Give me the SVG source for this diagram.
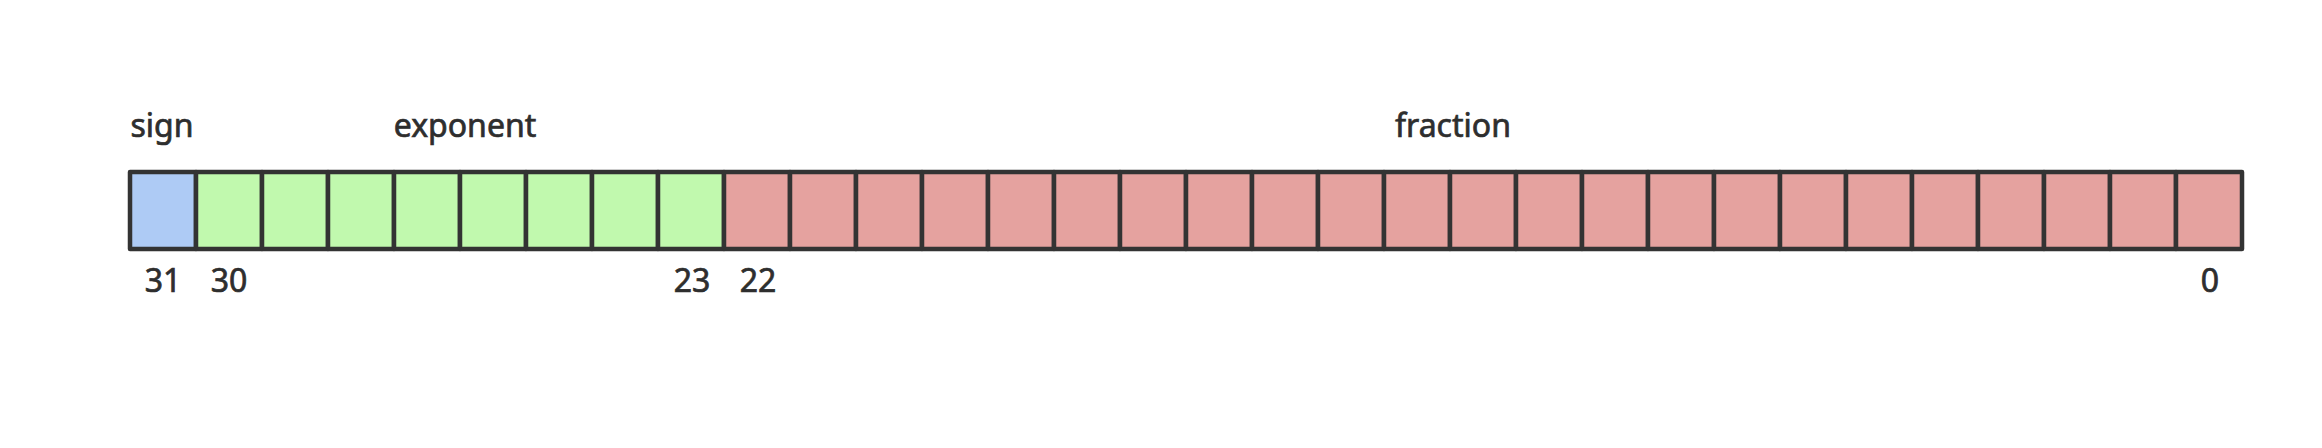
<svg xmlns="http://www.w3.org/2000/svg" width="2322" height="448" viewBox="0 0 2322 448">
<style>
.bg{fill:#ffffff}
.cell{stroke:#333333;stroke-width:4.5;stroke-linejoin:round}
.s{fill:#aecbf5}
.e{fill:#c1f9ae}
.f{fill:#e5a29f}
.t{font-family:"Noto Sans","Open Sans","DejaVu Sans",sans-serif;font-size:32px;fill:#2e2e2e;stroke:#2e2e2e;stroke-width:0.7;text-anchor:middle}
</style>
<rect class="bg" x="0" y="0" width="2322" height="448"/>
<g id="cells">
<g id="bit31"><rect class="cell s" x="130" y="172" width="66" height="77"/></g>
<g id="bit30"><rect class="cell e" x="196" y="172" width="66" height="77"/></g>
<g id="bit29"><rect class="cell e" x="262" y="172" width="66" height="77"/></g>
<g id="bit28"><rect class="cell e" x="328" y="172" width="66" height="77"/></g>
<g id="bit27"><rect class="cell e" x="394" y="172" width="66" height="77"/></g>
<g id="bit26"><rect class="cell e" x="460" y="172" width="66" height="77"/></g>
<g id="bit25"><rect class="cell e" x="526" y="172" width="66" height="77"/></g>
<g id="bit24"><rect class="cell e" x="592" y="172" width="66" height="77"/></g>
<g id="bit23"><rect class="cell e" x="658" y="172" width="66" height="77"/></g>
<g id="bit22"><rect class="cell f" x="724" y="172" width="66" height="77"/></g>
<g id="bit21"><rect class="cell f" x="790" y="172" width="66" height="77"/></g>
<g id="bit20"><rect class="cell f" x="856" y="172" width="66" height="77"/></g>
<g id="bit19"><rect class="cell f" x="922" y="172" width="66" height="77"/></g>
<g id="bit18"><rect class="cell f" x="988" y="172" width="66" height="77"/></g>
<g id="bit17"><rect class="cell f" x="1054" y="172" width="66" height="77"/></g>
<g id="bit16"><rect class="cell f" x="1120" y="172" width="66" height="77"/></g>
<g id="bit15"><rect class="cell f" x="1186" y="172" width="66" height="77"/></g>
<g id="bit14"><rect class="cell f" x="1252" y="172" width="66" height="77"/></g>
<g id="bit13"><rect class="cell f" x="1318" y="172" width="66" height="77"/></g>
<g id="bit12"><rect class="cell f" x="1384" y="172" width="66" height="77"/></g>
<g id="bit11"><rect class="cell f" x="1450" y="172" width="66" height="77"/></g>
<g id="bit10"><rect class="cell f" x="1516" y="172" width="66" height="77"/></g>
<g id="bit9"><rect class="cell f" x="1582" y="172" width="66" height="77"/></g>
<g id="bit8"><rect class="cell f" x="1648" y="172" width="66" height="77"/></g>
<g id="bit7"><rect class="cell f" x="1714" y="172" width="66" height="77"/></g>
<g id="bit6"><rect class="cell f" x="1780" y="172" width="66" height="77"/></g>
<g id="bit5"><rect class="cell f" x="1846" y="172" width="66" height="77"/></g>
<g id="bit4"><rect class="cell f" x="1912" y="172" width="66" height="77"/></g>
<g id="bit3"><rect class="cell f" x="1978" y="172" width="66" height="77"/></g>
<g id="bit2"><rect class="cell f" x="2044" y="172" width="66" height="77"/></g>
<g id="bit1"><rect class="cell f" x="2110" y="172" width="66" height="77"/></g>
<g id="bit0"><rect class="cell f" x="2176" y="172" width="66" height="77"/></g>
</g>
<g id="field-labels">
<text class="t" x="162" y="137">sign</text>
<text class="t" x="465" y="137">exponent</text>
<text class="t" x="1453" y="137">fraction</text>
</g>
<g id="bit-labels">
<text class="t" x="163" y="292">31</text>
<text class="t" x="229" y="292">30</text>
<text class="t" x="692" y="292">23</text>
<text class="t" x="758" y="292">22</text>
<text class="t" x="2210" y="292">0</text>
</g>
</svg>
